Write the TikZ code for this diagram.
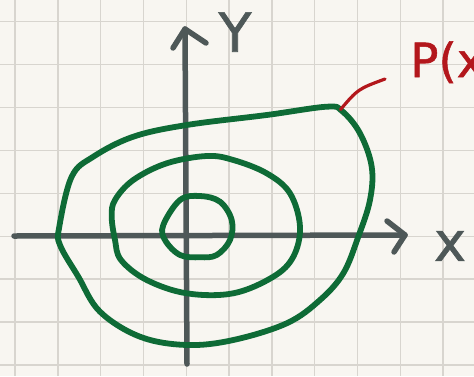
\documentclass[tikz,border=0pt]{standalone}
\usepackage{fontspec}
\newfontfamily\handfont[FakeBold=1.2]{DejaVu Sans}
\definecolor{paper}{HTML}{F8F6F1}
\definecolor{gridc}{HTML}{D8D5CF}
\definecolor{axisc}{HTML}{4E5858}
\definecolor{greenc}{HTML}{0E6B36}
\definecolor{redc}{HTML}{B3171C}
\begin{document}
\begin{tikzpicture}[x=1pt,y=-1pt,
  gridline/.style={draw=gridc,line width=1.4pt},
  axisline/.style={draw=axisc,line width=5.5pt,line cap=round,line join=round},
  contour/.style={draw=greenc,line width=5.8pt,line cap=round,line join=round},
  leader/.style={draw=redc,line width=3.2pt,line cap=round},
  axislabel/.style={text=axisc,font=\handfont\fontsize{54}{54}\selectfont,inner sep=0pt},
  redlabel/.style={text=redc,font=\handfont\fontsize{47}{47}\selectfont,inner sep=0pt}]
\useasboundingbox (0,0) rectangle (474,376);
\fill[paper] (0,0) rectangle (474,376);
\foreach \i in {0,...,10} \draw[gridline] ({15+42.8*\i},0) -- ({15+42.8*\i},376);
\foreach \j in {0,...,8} \draw[gridline] (0,{21.7+42.9*\j}) -- (474,{21.7+42.9*\j});
% axes
\coordinate (xl) at (14,236);
\coordinate (xr) at (405,235);
\coordinate (xa1) at (387,221);
\coordinate (xa2) at (394,252);
\coordinate (yb) at (187,364);
\coordinate (yt) at (185,29);
\coordinate (ya1) at (173,48);
\coordinate (ya2) at (206,43);
\draw[axisline] (xl) -- (xr);
\draw[axisline] (xa1) -- (xr) -- (xa2);
\draw[axisline] (yb) -- (yt);
\draw[axisline] (ya1) -- (yt) -- (ya2);
% contours
\draw[contour] plot[smooth cycle, tension=0.6] coordinates {
 (59.3,226.7) (71.7,176.7) (93.3,156.7) (133.3,136.7) (186.7,125) (266.7,115)
 (326.7,106.7) (342,111) (360,133.3) (371.7,166.7) (370,200) (358.3,236.7)
 (343.3,273.3) (320,300) (286.7,323.3) (233.3,340) (186.7,345) (140,336.7)
 (100,311.7) (78.3,276.7) (60,245)};
\draw[contour] plot[smooth cycle, tension=0.6] coordinates {
 (111.7,216.7) (115,240) (121,260) (146.7,280) (186.7,293.3) (233.3,293.3)
 (273.3,276.7) (293.3,256.7) (300,226.7) (290,193.3) (266.7,173.3) (233.3,160)
 (206.7,156) (166.7,163.3) (133.3,180) (115,200)};
\draw[contour] plot[smooth cycle, tension=0.6] coordinates {
 (163.3,225) (180,200) (200,196) (220,201.7) (231.7,220) (230,240) (216.7,255)
 (200,257.3) (180,255) (165,240)};
% labels
\node[axislabel] (ylab) at (235,32) {Y};
\node[axislabel] (xlab) at (450,246) {x};
\coordinate (ld1) at (340.5,109.5);
\coordinate (ld2) at (385,79);
\draw[leader] (ld1) .. controls (358,89) .. (ld2);
\node[redlabel,anchor=base west] (plab) at (410,77) {P(x};
\end{tikzpicture}
\end{document}
